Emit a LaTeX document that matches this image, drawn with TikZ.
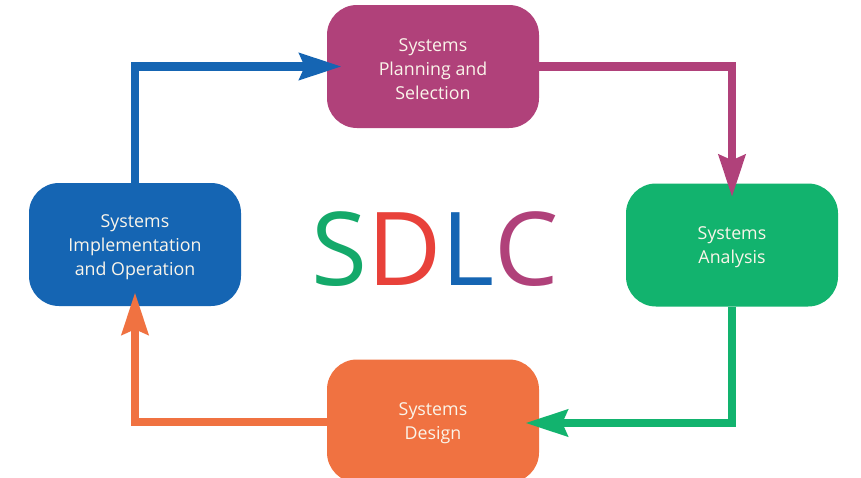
\documentclass[tikz,border=0pt]{standalone}
\usepackage{fontspec}
\setmainfont{Open Sans}
\usetikzlibrary{arrows.meta}
\definecolor{cplan}{HTML}{B0417A}
\definecolor{cana}{HTML}{12B36E}
\definecolor{cdes}{HTML}{F07241}
\definecolor{cimp}{HTML}{1565B3}
\definecolor{sdlcS}{HTML}{14A96A}
\definecolor{sdlcD}{HTML}{E8413A}
\definecolor{txt}{HTML}{FAF5EA}
\newcommand{\phasetext}[1]{\parbox{200pt}{\centering\vspace*{5pt}#1}}
\begin{document}
\begin{tikzpicture}[x=1pt,y=-1pt,
  phase/.style={rectangle, rounded corners=30pt, minimum width=212pt, minimum height=123pt,
    text=txt, align=center, inner sep=0pt, font=\fontsize{17.8}{23.8}\selectfont},
  flow/.style={line width=8.5pt, -{Stealth[length=42pt, width=26pt, inset=5pt]}}
]
\useasboundingbox (0,0) rectangle (861,477);
\fill[white] (0,0) rectangle (861,477);
\node[phase, fill=cplan] (plan) at (433,66.5) {\phasetext{Systems\\Planning and\\Selection}};
\node[phase, fill=cana] (ana) at (732,245) {\phasetext{Systems\\Analysis}};
\node[phase, fill=cdes] (des) at (433,421) {\phasetext{Systems\\Design}};
\node[phase, fill=cimp] (imp) at (135,244.5) {\phasetext{Systems\\Implementation\\and Operation}};
\node[anchor=base, inner sep=0pt, font=\fontsize{102}{102}\selectfont] (sdlc) at (435,285)
  {\textcolor{sdlcS}{S}\textcolor{sdlcD}{D}\textcolor{cimp}{L}\textcolor{cplan}{C}};
\draw[flow, cimp] (imp.north) |- ([xshift=15pt]plan.west);
\draw[flow, cplan] (plan.east) -| ([yshift=-14pt]ana.north);
\draw[flow, cana] (ana.south) |- ([xshift=-14pt,yshift=-2pt]des.east);
\draw[flow, cdes] ([yshift=-1pt]des.west) -| ([yshift=14pt]imp.south);
\end{tikzpicture}
\end{document}
